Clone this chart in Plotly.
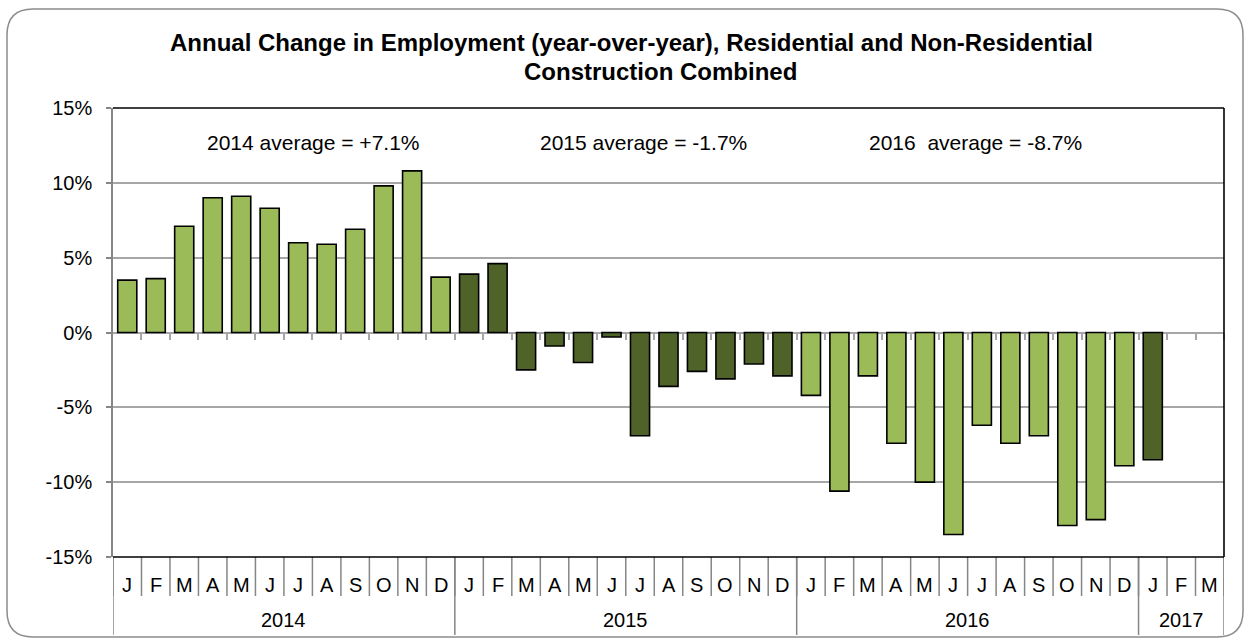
import plotly.graph_objects as go

# ---------------- data ----------------
months = ["J", "F", "M", "A", "M", "J", "J", "A", "S", "O", "N", "D"] * 3 + ["J", "F", "M"]
years = [2014] * 12 + [2015] * 12 + [2016] * 12 + [2017] * 3
year_labels = ["2014", "2015", "2016", "2017"]

values_2014 = [3.5, 3.6, 7.1, 9.0, 9.1, 8.3, 6.0, 5.9, 6.9, 9.8, 10.8, 3.7]
values_2015 = [3.9, 4.6, -2.5, -0.9, -2.0, -0.3, -6.9, -3.6, -2.6, -3.1, -2.1, -2.9]
values_2016 = [-4.2, -10.6, -2.9, -7.4, -10.0, -13.5, -6.2, -7.4, -6.9, -12.9, -12.5, -8.9]
values_2017 = [-8.5, None, None]
values = values_2014 + values_2015 + values_2016 + values_2017

y_ticks = [-15, -10, -5, 0, 5, 10, 15]
y_tick_labels = ["-15%", "-10%", "-5%", "0%", "5%", "10%", "15%"]

avg_texts = ["2014 average = +7.1%", "2015 average = -1.7%", "2016  average = -8.7%"]

title_line1 = "Annual Change in Employment (year-over-year), Residential and Non-Residential"
title_line2 = "Construction Combined"

# ---------------- styling ----------------
LIGHT = "#9BBB59"
DARK = "#4F6228"
GRID = "#A6A6A6"
AXIS = "#868686"
FONT = "Arial, Liberation Sans, sans-serif"

W, H = 1250, 640
L, R, T, B = 113, 1224, 108, 557  # plot area in pixels


def xp(px):
    return (px - L) / (R - L)


def yp(py):
    return (B - py) / (B - T)


n = len(months)
idx = list(range(n))
colors = [DARK if y in (2015, 2017) else LIGHT for y in years]

fig = go.Figure()
fig.add_trace(go.Bar(
    x=idx, y=values, width=0.67,
    marker=dict(color=colors, line=dict(color="black", width=1.6)),
    hoverinfo="skip", showlegend=False,
))

shapes = []
# month separators below plot
for k in range(n + 1):
    shapes.append(dict(type="line", xref="x", yref="paper", x0=k - 0.5, x1=k - 0.5,
                       y0=0, y1=yp(596), line=dict(color=AXIS, width=1.5)))
# year separators (longer)
bounds = [0]
for i in range(1, n):
    if years[i] != years[i - 1]:
        bounds.append(i)
bounds.append(n)
for b in bounds:
    shapes.append(dict(type="line", xref="x", yref="paper", x0=b - 0.5, x1=b - 0.5,
                       y0=0, y1=yp(635), line=dict(color=AXIS, width=1.5)))
# black border on top, right, bottom
shapes.append(dict(type="line", xref="paper", yref="paper", x0=0, x1=1, y0=1, y1=1,
                   line=dict(color="black", width=1.6), layer="above"))
shapes.append(dict(type="line", xref="paper", yref="paper", x0=1, x1=1, y0=0, y1=1,
                   line=dict(color="black", width=1.6), layer="above"))
shapes.append(dict(type="line", xref="paper", yref="paper", x0=0, x1=1, y0=0, y1=0,
                   line=dict(color="black", width=1.6), layer="above"))

# outer rounded frame
x0, x1, y0, y1, r = 7, 1243, 9, 637, 26
rx, ry = r / (R - L), r / (B - T)
X0, X1, Y0, Y1 = xp(x0), xp(x1), yp(y0), yp(y1)
path = (f"M {X0 + rx} {Y0} L {X1 - rx} {Y0} Q {X1} {Y0} {X1} {Y0 - ry} "
        f"L {X1} {Y1 + ry} Q {X1} {Y1} {X1 - rx} {Y1} "
        f"L {X0 + rx} {Y1} Q {X0} {Y1} {X0} {Y1 + ry} "
        f"L {X0} {Y0 - ry} Q {X0} {Y0} {X0 + rx} {Y0} Z")
shapes.append(dict(type="path", xref="paper", yref="paper", path=path,
                   line=dict(color="#8C8C8C", width=1.5), layer="below"))

annotations = []
for i in idx:
    annotations.append(dict(x=i, y=yp(585), xref="x", yref="paper", text=months[i],
                            showarrow=False, font=dict(size=20, color="black", family=FONT),
                            xanchor="center", yanchor="middle"))
for j in range(len(bounds) - 1):
    c = (bounds[j] + bounds[j + 1] - 1) / 2
    annotations.append(dict(x=c, y=yp(620), xref="x", yref="paper", text=year_labels[j],
                            showarrow=False, font=dict(size=20, color="black", family=FONT),
                            xanchor="center", yanchor="middle"))
for txt, cx in zip(avg_texts, [313, 643, 975]):
    annotations.append(dict(x=xp(cx), y=yp(142), xref="paper", yref="paper", text=txt,
                            showarrow=False, font=dict(size=21, color="black", family=FONT),
                            xanchor="center", yanchor="middle"))
annotations.append(dict(x=xp(631), y=yp(43), xref="paper", yref="paper",
                        text="<b>" + title_line1 + "</b>", showarrow=False, borderpad=0,
                        font=dict(size=24, color="black", family=FONT),
                        xanchor="center", yanchor="middle"))
annotations.append(dict(x=xp(660), y=yp(71.5), xref="paper", yref="paper",
                        text="<b>" + title_line2 + "</b>", showarrow=False, borderpad=0,
                        font=dict(size=24, color="black", family=FONT),
                        xanchor="center", yanchor="middle"))

fig.update_layout(
    width=W, height=H,
    margin=dict(l=L, r=W - R, t=T, b=H - B, pad=0),
    paper_bgcolor="white", plot_bgcolor="white",
    font=dict(family=FONT, size=20, color="black"),
    showlegend=False,
    xaxis=dict(range=[-0.5, n - 0.5], anchor="free", position=0.5,
               tickvals=[k - 0.5 for k in range(1, n + 1)],
               ticks="outside", ticklen=6, tickwidth=1.5, tickcolor=GRID,
               showticklabels=False, showgrid=False, zeroline=False, showline=False,
               fixedrange=True),
    yaxis=dict(range=[-15, 15], tickvals=y_ticks, ticktext=y_tick_labels,
               showline=True, linecolor=AXIS, linewidth=1.6,
               ticks="outside", ticklen=5, tickwidth=1.5, tickcolor=AXIS,
               gridcolor=GRID, gridwidth=1.5,
               zeroline=True, zerolinecolor=GRID, zerolinewidth=1.5,
               ticklabelstandoff=10, tickfont=dict(size=20, family=FONT),
               fixedrange=True),
    shapes=shapes, annotations=annotations,
)

fig.write_html("out.html", config={"displayModeBar": False},
               post_script="document.body.style.margin='0';document.body.style.overflow='hidden';")
